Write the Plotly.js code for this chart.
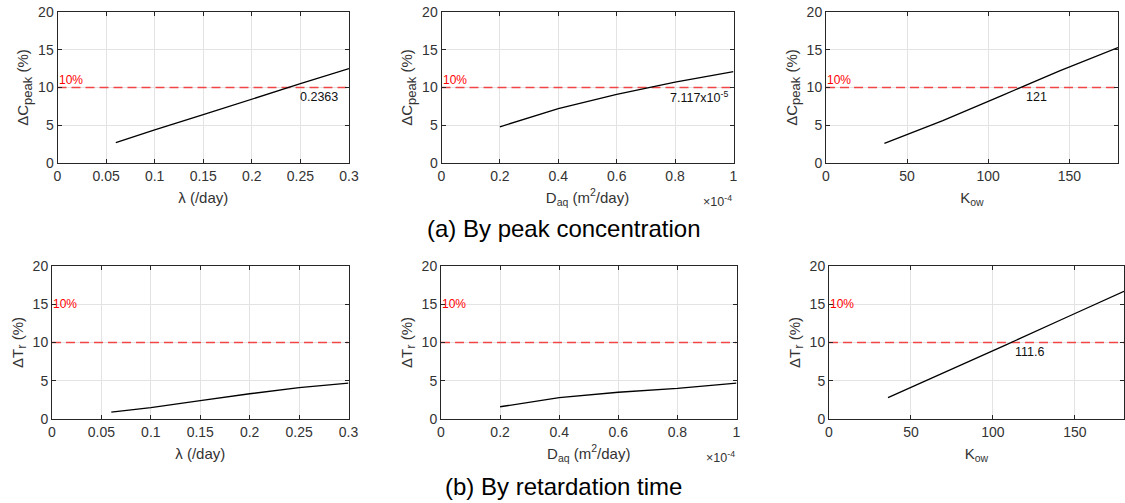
<!DOCTYPE html>
<html>
<head>
<meta charset="utf-8">
<script src="https://cdn.plot.ly/plotly-3.0.1.min.js"></script>
<style>html,body{margin:0;padding:0;background:#fff;}#chart{width:1125px;height:503px;}</style>
</head>
<body>
<div id="chart"></div>
<script>
// ---- data ----
const lambdaX = [0.06, 0.1, 0.15, 0.2, 0.25, 0.3];
const lambdaCpeak = [2.7, 4.4, 6.4, 8.5, 10.5, 12.5];
const lambdaTr = [0.9, 1.5, 2.4, 3.3, 4.1, 4.7];

const daqX = [0.2, 0.4, 0.6, 0.8, 1.0]; // in units of 1e-4 m^2/day
const daqCpeak = [4.8, 7.2, 9.1, 10.7, 12.1];
const daqTr = [1.6, 2.8, 3.5, 4.0, 4.7];

const kowX = [36, 72, 108, 144, 180];
const kowCpeak = [2.6, 5.6, 8.9, 12.2, 15.3];
const kowTr = [2.8, 6.2, 9.7, 13.2, 16.7];

const threshold = 10;
const xRanges = [[0, 0.3], [0, 1], [0, 180]];
const xDticks = [0.05, 0.2, 50];
const xTitles = ['λ (/day)', 'D<sub>aq</sub> (m<sup>2</sup>/day)', 'K<sub>ow</sub>'];
const yTitles = ['ΔC<sub><span style="font-size:13px">peak</span></sub> (%)', 'ΔT<sub><span style="font-size:13px">r</span></sub> (%)'];
const crossLabels = ['0.2363', '7.117x10<sup>-5</sup>', '121', '', '', '111.6'];
const crossLabelX = [0.248, 0.777, 122, null, null, 112];
const captions = ['(a) By peak concentration', '(b) By retardation time'];

// ---- layout geometry (pixels) ----
const W = 1125, H = 503;
const px = [[57.5, 349], [441.5, 733.5], [826, 1118], [52, 348.5], [441, 736.5], [829, 1124]];
const py = [[12, 163], [12, 163], [12, 163], [266, 419], [266, 419], [266, 419]];

const seriesX = [lambdaX, daqX, kowX, lambdaX, daqX, kowX];
const seriesY = [lambdaCpeak, daqCpeak, kowCpeak, lambdaTr, daqTr, kowTr];

const FONT = 'Liberation Sans, Arial, sans-serif';
const traces = [];
const layout = {
  width: W, height: H,
  margin: {l: 0, r: 0, t: 0, b: 0},
  paper_bgcolor: '#fff', plot_bgcolor: '#fff',
  showlegend: false,
  font: {family: FONT, size: 14, color: '#333'},
  annotations: []
};

for (let i = 0; i < 6; i++) {
  const n = i + 1;
  const xa = 'x' + (n === 1 ? '' : n), ya = 'y' + (n === 1 ? '' : n);
  const col = i % 3, row = Math.floor(i / 3);
  const xr = xRanges[col];
  traces.push({
    x: [xr[0], xr[1]], y: [threshold, threshold], xaxis: xa, yaxis: ya,
    mode: 'lines', line: {color: 'rgb(240,70,70)', width: 1.5, dash: '9px,5px'}, hoverinfo: 'skip'
  });
  traces.push({
    x: seriesX[i], y: seriesY[i], xaxis: xa, yaxis: ya,
    mode: 'lines', line: {color: '#000', width: 1.3}
  });
  const axCommon = {
    showline: true, linecolor: '#262626', linewidth: 1, mirror: 'ticks',
    ticks: 'inside', ticklen: 4, tickcolor: '#262626',
    showgrid: true, gridcolor: '#e3e3e3', gridwidth: 1, zeroline: false,
    tickfont: {family: FONT, size: 14, color: '#333'}
  };
  layout['xaxis' + (n === 1 ? '' : n)] = Object.assign({}, axCommon, {
    anchor: ya, domain: [px[i][0] / W, px[i][1] / W], range: xr,
    tick0: 0, dtick: xDticks[col],
    title: {text: xTitles[col], font: {family: FONT, size: 15, color: '#333'}, standoff: 9}
  });
  layout['yaxis' + (n === 1 ? '' : n)] = Object.assign({}, axCommon, {
    anchor: xa, domain: [1 - py[i][1] / H, 1 - py[i][0] / H], range: [0, 20],
    tick0: 0, dtick: 5,
    title: {text: yTitles[row], font: {family: FONT, size: 15, color: '#333'}, standoff: 5}
  });
  // 10% label
  layout.annotations.push({
    xref: xa + ' domain', yref: ya, x: 0, y: row === 0 ? 10 : 15,
    xanchor: 'left', yanchor: row === 0 ? 'bottom' : 'middle', showarrow: false,
    text: '10%', font: {family: FONT, size: 12, color: '#ff0000'}, xshift: -1, yshift: row === 0 ? -2 : 0
  });
  if (crossLabels[i]) {
    layout.annotations.push({
      xref: xa, yref: ya, x: crossLabelX[i], y: 8.8, xanchor: 'left', yanchor: 'middle',
      showarrow: false, text: crossLabels[i], font: {family: FONT, size: 12.5, color: '#111'}
    });
  }
  if (col === 1) {
    layout.annotations.push({
      xref: xa + ' domain', yref: ya + ' domain', x: 1, y: 0, xanchor: 'right', yanchor: 'top',
      yshift: -28, showarrow: false, text: '×10<sup>-4</sup>', font: {family: FONT, size: 12.5, color: '#333'}
    });
  }
}
layout.annotations.push({
  xref: 'paper', yref: 'paper', x: 563 / W, y: 1 - 228 / H, xanchor: 'center', yanchor: 'middle',
  showarrow: false, text: captions[0], font: {family: FONT, size: 24, color: '#000'}
});
layout.annotations.push({
  xref: 'paper', yref: 'paper', x: 563 / W, y: 1 - 486 / H, xanchor: 'center', yanchor: 'middle',
  showarrow: false, text: captions[1], font: {family: FONT, size: 24, color: '#000'}
});

Plotly.newPlot('chart', traces, layout, {staticPlot: true, displayModeBar: false});
</script>
</body>
</html>
